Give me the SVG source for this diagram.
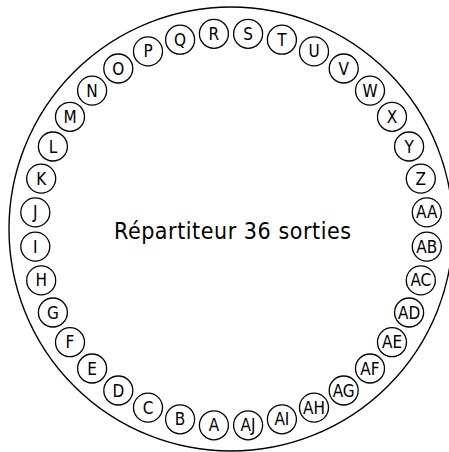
<svg xmlns="http://www.w3.org/2000/svg" width="449" height="452" viewBox="0 0 449 452">
<style>
.ring{fill:none;stroke:#000;stroke-width:1.4}
.n circle{fill:#fff;stroke:#000;stroke-width:1.3}
.n text{font-family:"Liberation Sans Narrow","DejaVu Sans Condensed","Liberation Sans",Arial,sans-serif;font-size:17px;fill:#000;text-anchor:middle}
.title{font-family:"Liberation Sans Narrow","DejaVu Sans Condensed","Liberation Sans",Arial,sans-serif;font-size:23px;fill:#000}
</style>
<g id="frame"><circle class="ring" cx="231" cy="229" r="222"/></g>
<text class="title" x="114" y="238.5" textLength="237" lengthAdjust="spacing">Répartiteur 36 sorties</text>
<g id="A" class="n"><circle cx="213.9" cy="425.3" r="14.5"/><text x="213.9" y="431.3">A</text></g>
<g id="B" class="n"><circle cx="180.1" cy="419.3" r="14.5"/><text x="180.1" y="425.3">B</text></g>
<g id="C" class="n"><circle cx="148.0" cy="407.6" r="14.5"/><text x="148.0" y="413.6">C</text></g>
<g id="D" class="n"><circle cx="118.3" cy="390.5" r="14.5"/><text x="118.3" y="396.5">D</text></g>
<g id="E" class="n"><circle cx="92.1" cy="368.5" r="14.5"/><text x="92.1" y="374.5">E</text></g>
<g id="F" class="n"><circle cx="70.0" cy="342.2" r="14.5"/><text x="70.0" y="348.2">F</text></g>
<g id="G" class="n"><circle cx="52.9" cy="312.5" r="14.5"/><text x="52.9" y="318.5">G</text></g>
<g id="H" class="n"><circle cx="41.2" cy="280.4" r="14.5"/><text x="41.2" y="286.4">H</text></g>
<g id="I" class="n"><circle cx="35.3" cy="246.6" r="14.5"/><text x="35.3" y="252.6">I</text></g>
<g id="J" class="n"><circle cx="35.3" cy="212.4" r="14.5"/><text x="35.3" y="218.4">J</text></g>
<g id="K" class="n"><circle cx="41.2" cy="178.6" r="14.5"/><text x="41.2" y="184.6">K</text></g>
<g id="L" class="n"><circle cx="52.9" cy="146.5" r="14.5"/><text x="52.9" y="152.5">L</text></g>
<g id="M" class="n"><circle cx="70.0" cy="116.8" r="14.5"/><text x="70.0" y="122.8">M</text></g>
<g id="N" class="n"><circle cx="92.1" cy="90.6" r="14.5"/><text x="92.1" y="96.6">N</text></g>
<g id="O" class="n"><circle cx="118.3" cy="68.5" r="14.5"/><text x="118.3" y="74.5">O</text></g>
<g id="P" class="n"><circle cx="148.0" cy="51.4" r="14.5"/><text x="148.0" y="57.4">P</text></g>
<g id="Q" class="n"><circle cx="180.1" cy="39.7" r="14.5"/><text x="180.1" y="45.7">Q</text></g>
<g id="R" class="n"><circle cx="213.9" cy="33.8" r="14.5"/><text x="213.9" y="39.8">R</text></g>
<g id="S" class="n"><circle cx="248.1" cy="33.8" r="14.5"/><text x="248.1" y="39.8">S</text></g>
<g id="T" class="n"><circle cx="281.9" cy="39.7" r="14.5"/><text x="281.9" y="45.7">T</text></g>
<g id="U" class="n"><circle cx="314.0" cy="51.4" r="14.5"/><text x="314.0" y="57.4">U</text></g>
<g id="V" class="n"><circle cx="343.7" cy="68.5" r="14.5"/><text x="343.7" y="74.5">V</text></g>
<g id="W" class="n"><circle cx="370.0" cy="90.6" r="14.5"/><text x="370.0" y="96.6">W</text></g>
<g id="X" class="n"><circle cx="392.0" cy="116.8" r="14.5"/><text x="392.0" y="122.8">X</text></g>
<g id="Y" class="n"><circle cx="409.1" cy="146.5" r="14.5"/><text x="409.1" y="152.5">Y</text></g>
<g id="Z" class="n"><circle cx="420.8" cy="178.6" r="14.5"/><text x="420.8" y="184.6">Z</text></g>
<g id="AA" class="n"><circle cx="426.8" cy="212.4" r="14.5"/><text x="426.8" y="218.4">AA</text></g>
<g id="AB" class="n"><circle cx="426.8" cy="246.6" r="14.5"/><text x="426.8" y="252.6">AB</text></g>
<g id="AC" class="n"><circle cx="420.8" cy="280.4" r="14.5"/><text x="420.8" y="286.4">AC</text></g>
<g id="AD" class="n"><circle cx="409.1" cy="312.5" r="14.5"/><text x="409.1" y="318.5">AD</text></g>
<g id="AE" class="n"><circle cx="392.0" cy="342.2" r="14.5"/><text x="392.0" y="348.2">AE</text></g>
<g id="AF" class="n"><circle cx="370.0" cy="368.5" r="14.5"/><text x="370.0" y="374.5">AF</text></g>
<g id="AG" class="n"><circle cx="343.7" cy="390.5" r="14.5"/><text x="343.7" y="396.5">AG</text></g>
<g id="AH" class="n"><circle cx="314.0" cy="407.6" r="14.5"/><text x="314.0" y="413.6">AH</text></g>
<g id="AI" class="n"><circle cx="281.9" cy="419.3" r="14.5"/><text x="281.9" y="425.3">AI</text></g>
<g id="AJ" class="n"><circle cx="248.1" cy="425.3" r="14.5"/><text x="248.1" y="431.3">AJ</text></g>
</svg>
